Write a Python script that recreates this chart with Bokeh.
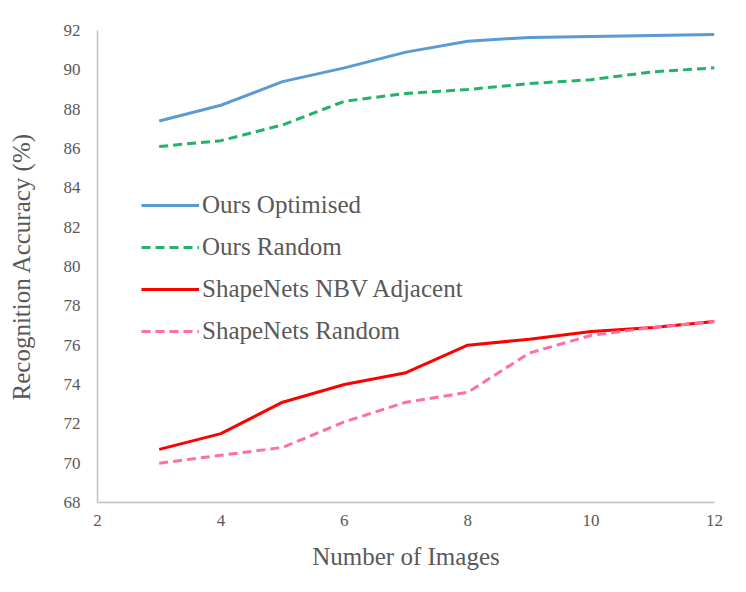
from bokeh.plotting import figure
from bokeh.models import Legend, LegendItem, Range1d, FixedTicker
from bokeh.embed import file_html
from bokeh.resources import INLINE

num_images = [3, 4, 5, 6, 7, 8, 9, 10, 11, 12]
ours_optimised = [87.4, 88.2, 89.4, 90.1, 90.9, 91.45, 91.65, 91.7, 91.75, 91.8]
ours_random = [86.1, 86.4, 87.2, 88.4, 88.8, 89.0, 89.3, 89.5, 89.9, 90.1]
shapenets_nbv = [70.7, 71.5, 73.1, 74.0, 74.6, 76.0, 76.3, 76.7, 76.9, 77.2]
shapenets_random = [70.0, 70.4, 70.8, 72.1, 73.1, 73.6, 75.6, 76.5, 76.9, 77.2]
x_ticks = [2, 4, 6, 8, 10, 12]
y_ticks = [68, 70, 72, 74, 76, 78, 80, 82, 84, 86, 88, 90, 92]

FONT = "Liberation Serif"
TXT = "#595959"
AX = "#bfbfbf"

p = figure(width=730, height=576, output_backend="svg", toolbar_location=None,
           x_range=Range1d(2, 12), y_range=Range1d(68, 92),
           min_border_left=97, min_border_right=16, min_border_top=30, min_border_bottom=74)
p.outline_line_color = None
p.xgrid.visible = False
p.ygrid.visible = False

r1 = p.line(num_images, ours_optimised, line_color="#5b9bd5", line_width=3)
r2 = p.line(num_images, ours_random, line_color="#22b36a", line_width=3, line_dash="9 5")
r3 = p.line(num_images, shapenets_nbv, line_color="#ff0000", line_width=3)
r4 = p.line(num_images, shapenets_random, line_color="#ff6fa5", line_width=3, line_dash="9 5")

for ax, ticks in ((p.xaxis[0], x_ticks), (p.yaxis[0], y_ticks)):
    ax.ticker = FixedTicker(ticks=ticks)
    ax.major_tick_out = 0
    ax.major_tick_in = 0
    ax.minor_tick_out = 0
    ax.minor_tick_in = 0
    ax.axis_line_color = AX
    ax.axis_line_width = 1.5
    ax.major_label_text_font = FONT
    ax.major_label_text_font_size = "17px"
    ax.major_label_text_color = TXT
    ax.axis_label_text_font = FONT
    ax.axis_label_text_font_size = "25px"
    ax.axis_label_text_color = TXT
    ax.axis_label_text_font_style = "normal"

p.xaxis.axis_label = "Number of Images"
p.yaxis.axis_label = "Recognition Accuracy (%)"
p.xaxis.major_label_standoff = 12
p.xaxis.axis_label_standoff = 14
p.yaxis.major_label_standoff = 17
p.yaxis.axis_label_standoff = 26

legend = Legend(items=[
    LegendItem(label="Ours Optimised", renderers=[r1]),
    LegendItem(label="Ours Random", renderers=[r2]),
    LegendItem(label="ShapeNets NBV Adjacent", renderers=[r3]),
    LegendItem(label="ShapeNets Random", renderers=[r4]),
], location=(44, 156))
legend.label_text_font = FONT
legend.label_text_font_size = "25px"
legend.label_text_color = TXT
legend.glyph_width = 58
legend.glyph_height = 30
legend.label_height = 30
legend.spacing = 12
legend.padding = 0
legend.margin = 0
legend.label_standoff = 3
legend.border_line_color = None
legend.background_fill_alpha = 0
p.add_layout(legend, "center")

open("out.html", "w").write(file_html(p, INLINE))
